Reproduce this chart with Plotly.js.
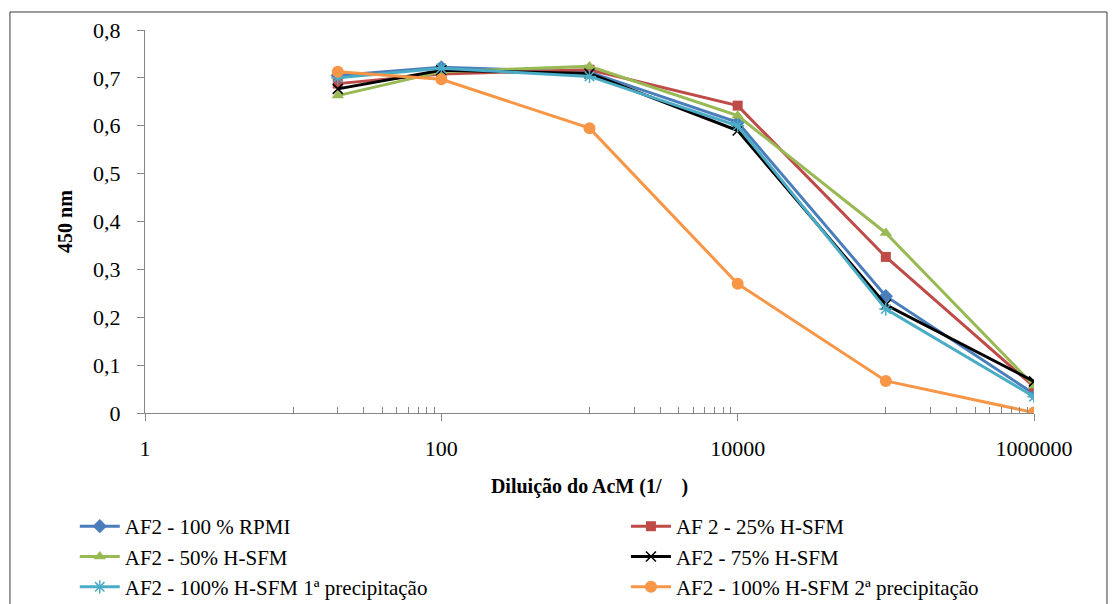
<!DOCTYPE html>
<html>
<head>
<meta charset="utf-8">
<script src="https://cdn.plot.ly/plotly-3.0.1.min.js"></script>
<style>html,body{margin:0;padding:0;background:#fff;}#chart{width:1113px;height:604px;}</style>
</head>
<body>
<div id="chart"></div>
<script>
var dilutions = [20, 100, 1000, 10000, 100000, 1000000];
var seriesNames = [
  "AF2 - 100 % RPMI",
  "AF 2 - 25% H-SFM",
  "AF2 - 50% H-SFM",
  "AF2 - 75% H-SFM",
  "AF2 - 100% H-SFM 1ª precipitação",
  "AF2 - 100% H-SFM 2ª precipitação"
];
var rpmi100   = [0.705, 0.722, 0.712, 0.607, 0.244, 0.040];
var hsfm25    = [0.688, 0.708, 0.717, 0.642, 0.326, 0.055];
var hsfm50    = [0.663, 0.713, 0.724, 0.621, 0.376, 0.057];
var hsfm75    = [0.677, 0.716, 0.709, 0.590, 0.226, 0.066];
var hsfm100p1 = [0.700, 0.720, 0.703, 0.600, 0.217, 0.034];
var hsfm100p2 = [0.713, 0.697, 0.595, 0.270, 0.067, 0.001];
var xTickVals = [1, 100, 10000, 1000000];
var xTickText = ["1", "100", "10000", "1000000"];
var xMinorTicks = [10,20,30,40,50,60,70,80,90,1000,2000,3000,4000,5000,6000,7000,8000,9000,100000,200000,300000,400000,500000,600000,700000,800000,900000];

var allValues = [rpmi100, hsfm25, hsfm50, hsfm75, hsfm100p1, hsfm100p2];
var colors = ["#4A7EBB", "#BE4B48", "#98B954", "#000000", "#4BACC6", "#F79646"];
var symbols = ["diamond", "square", "triangle-up", "x-thin-open", "asterisk-open", "circle"];
var msizes = [11, 10, 11, 10, 11, 12];
var SERIF = "Liberation Serif";

var traces = allValues.map(function(vals, i){
  return {
    x: dilutions, y: vals, name: seriesNames[i],
    type: "scatter", mode: "lines+markers",
    legend: (i % 2 === 0) ? "legend" : "legend2",
    legendgroup: "g" + i,
    line: {color: colors[i], width: 3},
    marker: {symbol: symbols[i], size: msizes[i], color: colors[i],
             line: {color: colors[i], width: (symbols[i].indexOf("open") >= 0 ? 1.5 : 0)}}
  };
});

var legendCommon = {
  orientation: "v", yanchor: "top", xanchor: "left",
  font: {size: 21, family: SERIF},
  bgcolor: "rgba(0,0,0,0)", itemwidth: 40, traceorder: "normal",
  tracegroupgap: 6
};

var layout = {
  width: 1113, height: 604,
  margin: {l: 145, r: 79, t: 30, b: 191, autoexpand: false},
  paper_bgcolor: "#ffffff", plot_bgcolor: "#ffffff",
  separators: ",.",
  showlegend: true,
  font: {family: SERIF, color: "#000"},
  xaxis: {
    type: "log", range: [0, 6],
    tickmode: "array", tickvals: xTickVals, ticktext: xTickText,
    ticks: "outside", ticklen: 7, tickcolor: "#868686",
    showline: true, linecolor: "#868686", linewidth: 1,
    showgrid: false, zeroline: false,
    tickfont: {size: 22, family: SERIF},
    ticklabelstandoff: 9,
    minor: {tickmode: "array", tickvals: xMinorTicks, ticks: "inside", ticklen: 6, tickcolor: "#868686", showgrid: false},
    title: {text: "<b>Diluição do AcM (1/    )</b>", font: {size: 20, family: SERIF}, standoff: 18}
  },
  yaxis: {
    range: [0, 0.8], dtick: 0.1, tickformat: ".1~f",
    ticks: "outside", ticklen: 7, tickcolor: "#868686",
    showline: true, linecolor: "#868686", linewidth: 1,
    showgrid: false, zeroline: false,
    tickfont: {size: 22, family: SERIF},
    ticklabelstandoff: 12,
    title: {text: "<b>450 nm</b>", font: {size: 20, family: SERIF}, standoff: 15}
  },
  legend: Object.assign({}, legendCommon, {x: -0.079, y: -0.243}),
  legend2: Object.assign({}, legendCommon, {x: 0.541, y: -0.243}),
  shapes: [{
    type: "rect", xref: "paper", yref: "paper",
    x0: -0.1519, x1: 1.0821, y0: -0.52, y1: 1.047,
    line: {color: "#3a3a3a", width: 1}, fillcolor: "rgba(0,0,0,0)", layer: "below"
  }]
};

Plotly.newPlot("chart", traces, layout, {displayModeBar: false, staticPlot: true});
</script>
</body>
</html>
